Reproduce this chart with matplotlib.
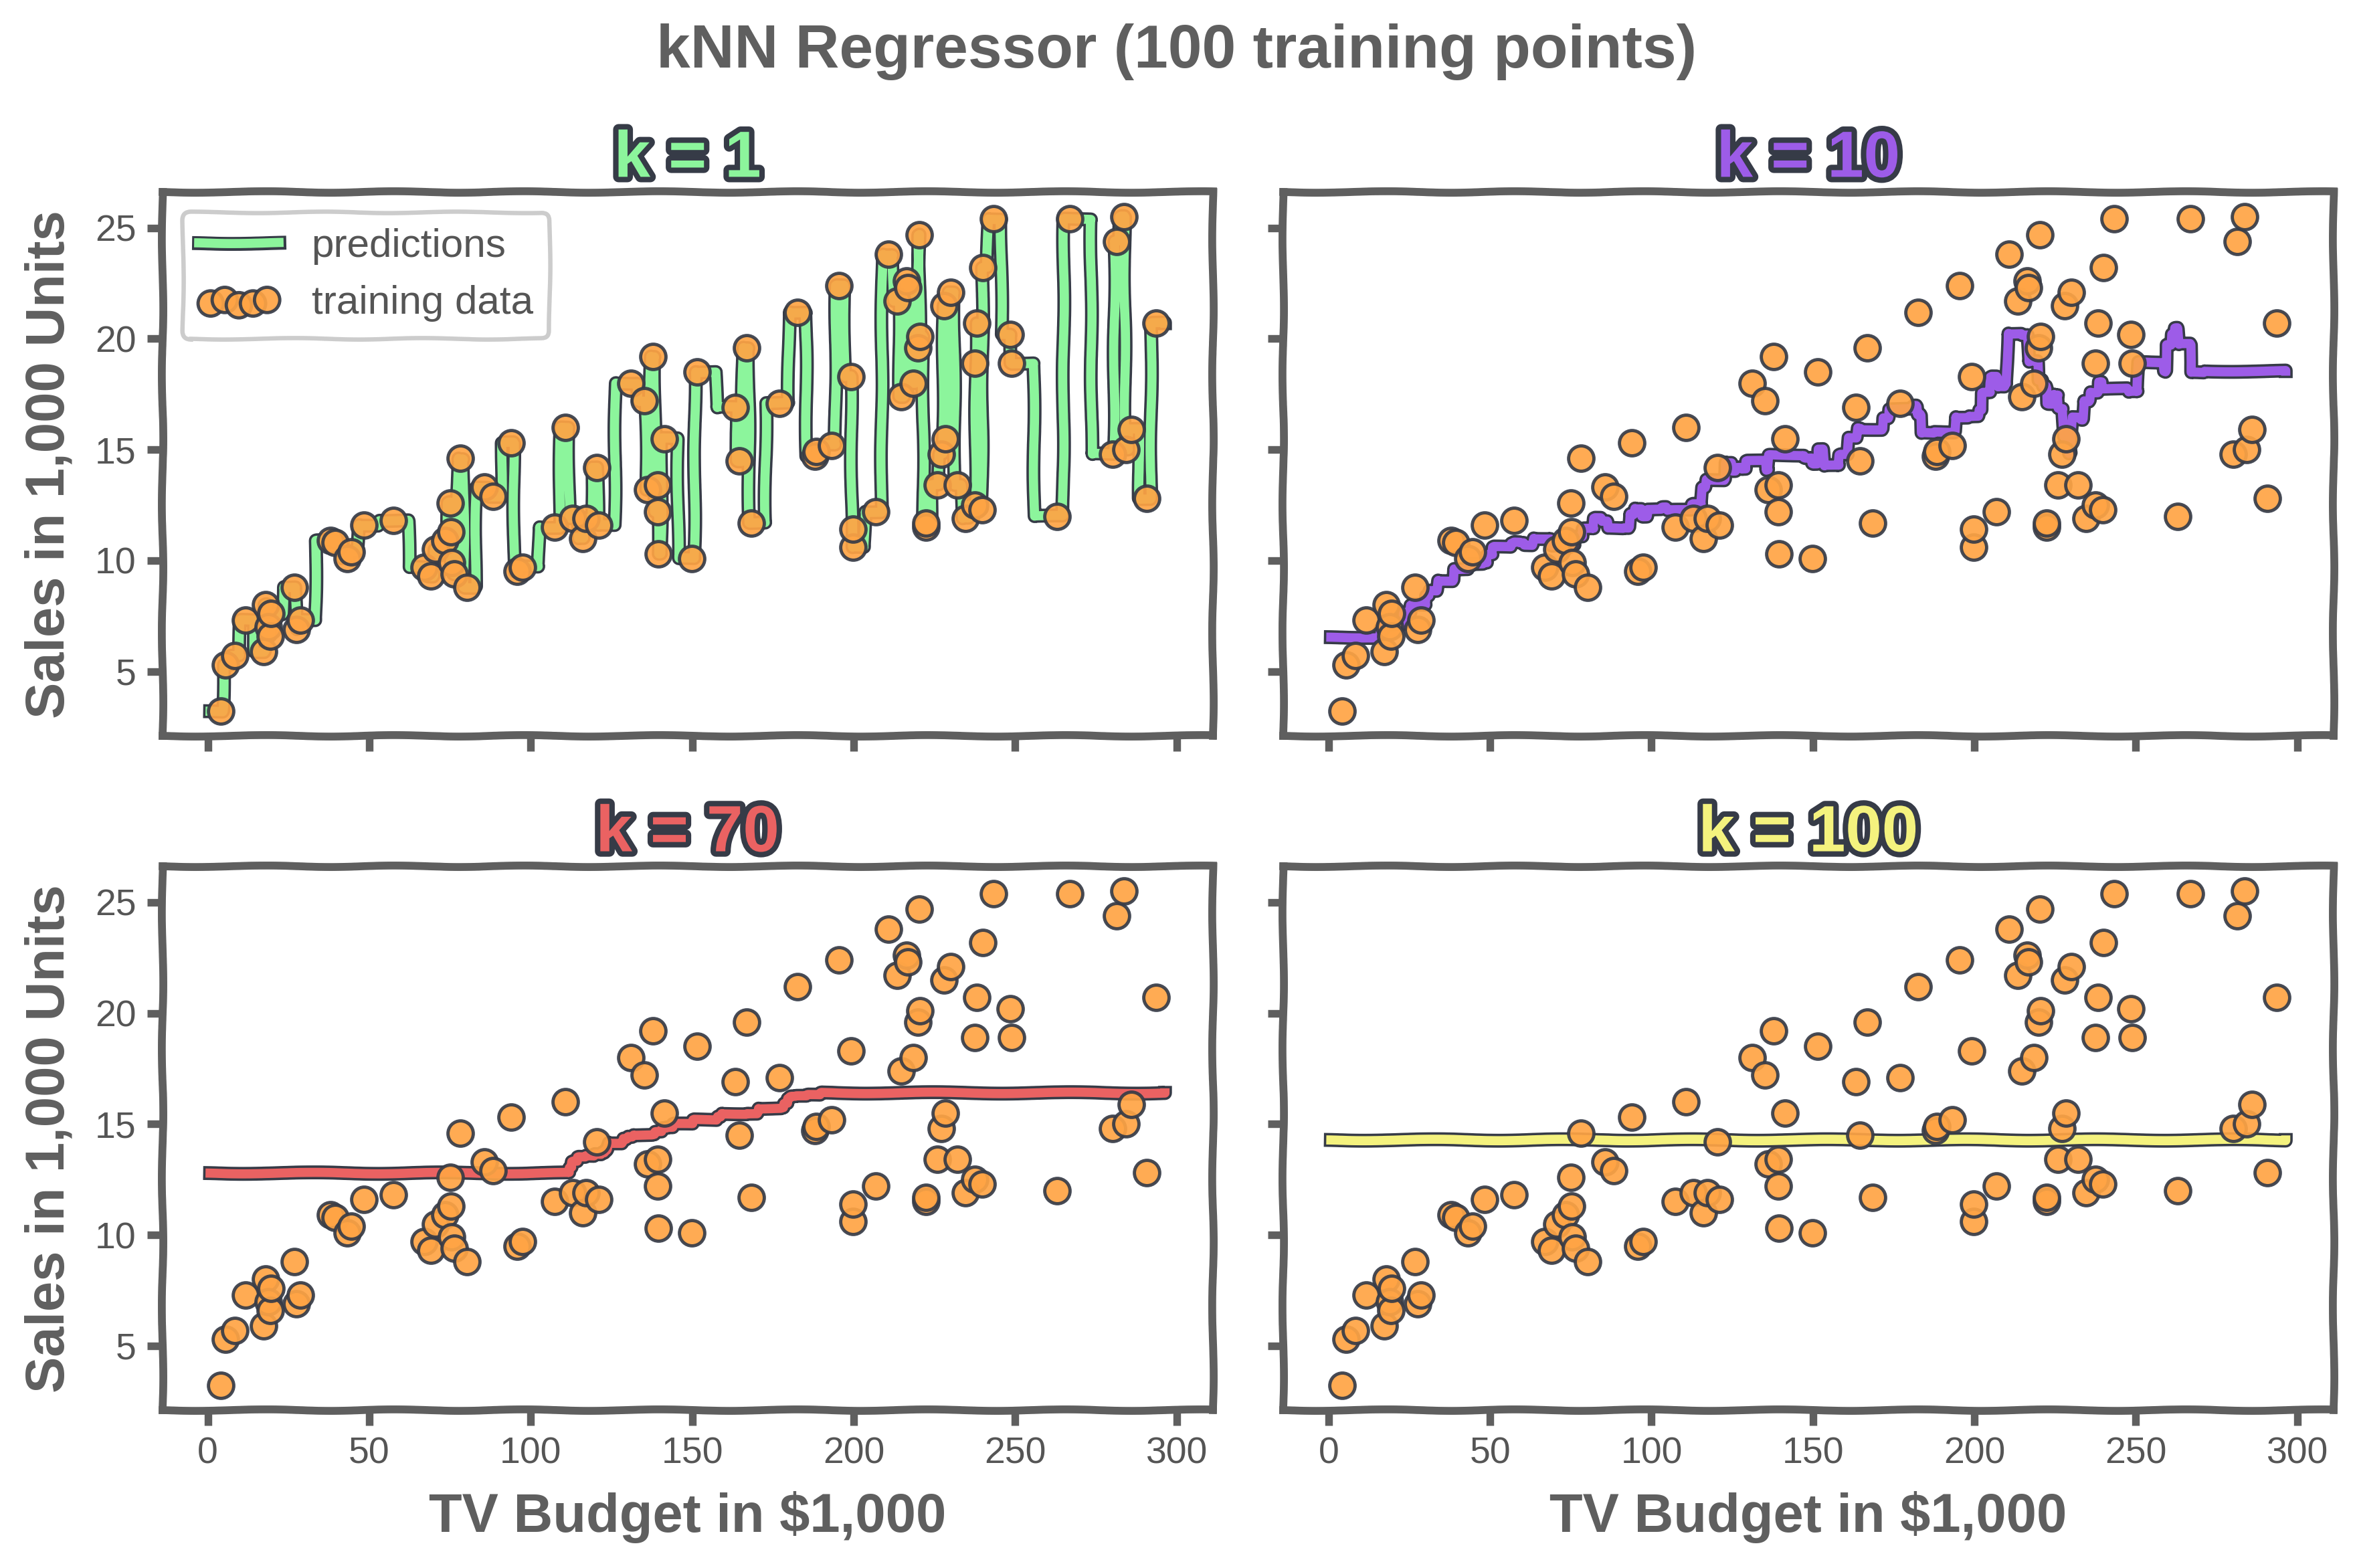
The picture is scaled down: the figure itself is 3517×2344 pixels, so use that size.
import numpy as np
import matplotlib
matplotlib.use('Agg')
import matplotlib.pyplot as plt
import matplotlib.patheffects as pe

# training points: TV budget ($1,000) and sales (1,000 units)
tv_budget = [4.1, 5.4, 8.4, 11.7, 17.2, 17.9, 18.8, 19.4, 19.6, 26.8,
             27.5, 28.6, 38.0, 39.5, 43.1, 44.5, 48.3, 57.5, 66.9, 69.0,
             70.6, 73.4, 75.1, 75.3, 75.5, 76.4, 78.2, 80.2, 85.7, 88.3,
             93.9, 95.7, 97.5, 107.4, 110.7, 112.9, 116.0, 117.2, 120.5, 121.0,
             131.1, 135.2, 136.2, 137.9, 139.2, 139.3, 139.5, 141.3, 149.8, 151.5,
             163.3, 164.5, 166.8, 168.4, 177.0, 182.6, 187.9, 188.4, 193.2, 195.4,
             199.1, 199.8, 199.8, 206.8, 210.8, 213.5, 214.7, 216.4, 216.8, 218.4,
             219.8, 220.3, 220.5, 222.4, 222.4, 225.8, 227.2, 228.0, 228.3, 230.1,
             232.1, 234.5, 237.4, 237.4, 238.2, 239.8, 239.9, 243.2, 248.4, 248.8,
             262.9, 266.9, 280.2, 281.4, 283.6, 284.3, 286.0, 290.7, 293.6]
sales = [3.2, 5.3, 5.7, 7.3, 5.9, 8.0, 7.0, 6.6, 7.6, 8.8,
         6.9, 7.3, 10.9, 10.8, 10.1, 10.4, 11.6, 11.8, 9.7, 9.3,
         10.5, 10.9, 12.6, 11.3, 9.9, 9.4, 14.6, 8.8, 13.3, 12.9,
         15.3, 9.5, 9.7, 11.5, 16.0, 11.9, 11.0, 11.9, 14.2, 11.6,
         18.0, 17.2, 13.2, 19.2, 12.2, 13.4, 10.3, 15.5, 10.1, 18.5,
         16.9, 14.5, 19.6, 11.7, 17.1, 21.2, 14.7, 14.9, 15.2, 22.4,
         18.3, 10.6, 11.4, 12.2, 23.8, 21.7, 17.4, 22.6, 22.3, 18.0,
         19.6, 24.7, 20.1, 11.5, 11.7, 13.4, 14.8, 21.5, 15.5, 22.1,
         13.4, 11.9, 12.5, 18.9, 20.7, 12.3, 23.2, 25.4, 20.2, 18.9,
         12.0, 25.4, 14.8, 24.4, 25.5, 15.0, 15.9, 12.8, 20.7]

k_values = [1, 10, 70, 100]
k_colors = ['#8cf59c', '#9d5ce8', '#ea6262', '#f4f27e']

# range of the prediction grid (TV min / max of the full data set)
grid_min = 0.7
grid_max = 296.4

DARK = '#363b47'
ORANGE = '#ffa444'
GRAY = '#5f5f5f'


def knn_predict(x_train, y_train, x_query, k):
    dist = np.abs(x_query[:, None] - x_train[None, :])
    idx = np.argsort(dist, axis=1, kind='stable')[:, :k]
    return y_train[idx].mean(axis=1)


plt.rcParams['font.family'] = ['Liberation Sans', 'DejaVu Sans']
plt.rcParams['path.sketch'] = (1.1, 220, 2)

x = np.array(tv_budget)
y = np.array(sales)
x_grid = np.linspace(grid_min, grid_max, 1200)

dpi = 234.4
fig, axes = plt.subplots(2, 2, sharex=True, sharey=True,
                         figsize=(3517 / dpi, 2344 / dpi), dpi=dpi)
fig.subplots_adjust(left=0.069, right=0.9917, bottom=0.1005, top=0.8775,
                    wspace=0.067, hspace=0.24)

for ax, k, color in zip(axes.flat, k_values, k_colors):
    y_pred = knn_predict(x, y, x_grid, k)
    ax.plot(x_grid, y_pred, color=color, lw=4.2, label='predictions',
            path_effects=[pe.Stroke(linewidth=6.4, foreground=DARK), pe.Normal()])
    sc = ax.scatter(x, y, s=135, c=ORANGE, edgecolors=DARK, linewidths=1.5,
                    alpha=0.92, zorder=3, label='training data')
    sc.set_sketch_params(None)

    ax.set_title(f'k = {k}', fontsize=30, fontweight='bold', color=color, pad=7,
                 path_effects=[pe.withStroke(linewidth=5, foreground=DARK)])

    for s in ax.spines.values():
        s.set_linewidth(3.6)
        s.set_color(GRAY)
    ax.tick_params(direction='out', length=7, width=3.5, color=GRAY,
                   labelsize=17, labelcolor='#555555', pad=5)
    ax.set_xticks([0, 50, 100, 150, 200, 250, 300])
    ax.set_yticks([5, 10, 15, 20, 25])

for ax in axes[:, 0]:
    ax.set_ylabel('Sales in 1,000 Units', fontsize=25, fontweight='bold',
                  color=GRAY, labelpad=9)
for ax in axes[1, :]:
    ax.set_xlabel('TV Budget in $1,000', fontsize=25, fontweight='bold',
                  color=GRAY, labelpad=9)

leg = axes[0, 0].legend(loc='upper left', fontsize=18.5, scatterpoints=5,
                        labelcolor='#555555', framealpha=1, fancybox=True)
leg.get_frame().set_edgecolor('#cccccc')
leg.get_frame().set_linewidth(2)

fig.suptitle('kNN Regressor (100 training points)', fontsize=28,
             fontweight='bold', color=GRAY, y=0.985)

fig.savefig('out.png', dpi=dpi)
